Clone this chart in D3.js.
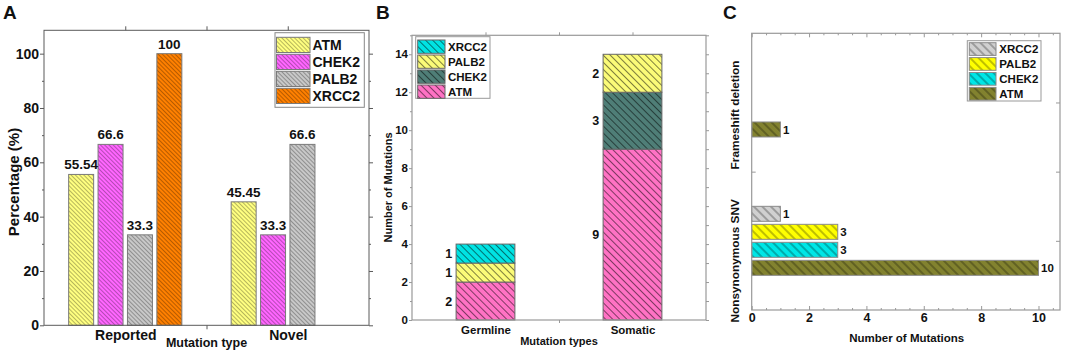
<!DOCTYPE html>
<html><head><meta charset="utf-8">
<script src="https://cdn.jsdelivr.net/npm/d3@7"></script>
<style>
html,body{margin:0;padding:0;background:#fff;}
svg text{font-family:"Liberation Sans",Arial,Helvetica,sans-serif;font-weight:bold;fill:#111;}
</style>
</head><body>
<svg id="chart" width="1065" height="350"></svg>
<script>
// ---------------- DATA ----------------
const genes = ["ATM", "CHEK2", "PALB2", "XRCC2"];

// Panel A
const aCategories = ["Reported", "Novel"];
const aReported = [55.54, 66.6, 33.3, 100];
const aNovel = [45.45, 33.3, 66.6, null];
const aYTicks = [0, 20, 40, 60, 80, 100];
const aYMinor = [10, 30, 50, 70, 90];

// Panel B
const bCategories = ["Germline", "Somatic"];
const bATM = [2, 9];
const bCHEK2 = [0, 3];
const bPALB2 = [1, 2];
const bXRCC2 = [1, 0];
const bYTicks = [0, 2, 4, 6, 8, 10, 12, 14];
const bYMinor = [1, 3, 5, 7, 9, 11, 13, 15];

// Panel C
const cCategories = ["Nonsynonymous SNV", "Frameshift deletion"];
const cATM = [10, 1];
const cCHEK2 = [3, null];
const cPALB2 = [3, null];
const cXRCC2 = [1, null];
const cXTicks = [0, 2, 4, 6, 8, 10];
const cXMinor = [0.5, 1, 1.5, 2.5, 3, 3.5, 4.5, 5, 5.5, 6.5, 7, 7.5, 8.5, 9, 9.5, 10.5];

// ---------------- HELPERS ----------------
const svg = d3.select("#chart");
const defs = svg.append("defs");
function hatch(id, color, spacing, lw, lineColor) {
  const p = defs.append("pattern").attr("id", id)
    .attr("patternUnits", "userSpaceOnUse")
    .attr("width", spacing).attr("height", spacing)
    .attr("patternTransform", "rotate(-45)");
  p.append("rect").attr("width", spacing).attr("height", spacing).attr("fill", color);
  p.append("line").attr("x1", spacing / 2).attr("y1", 0).attr("x2", spacing / 2).attr("y2", spacing)
    .attr("stroke", lineColor).attr("stroke-width", lw);
  return "url(#" + id + ")";
}
function styleAxis(g, color, fontSize) {
  g.select(".domain").remove();
  g.selectAll(".tick line").attr("stroke", color);
  g.selectAll(".tick text").attr("fill", "#111").style("font-size", fontSize + "px")
    .style("font-family", '"Liberation Sans",Arial,sans-serif').style("font-weight", "bold");
  return g;
}

// =============== PANEL A ===============
(function () {
  const x = d3.scaleLinear().domain([0.5, 2.5]).range([44, 369]);
  const y = d3.scaleLinear().domain([0, 108.6]).range([325.3, 30.3]);
  const inner = d3.scaleBand().domain(genes).range([-56.6, 56.6]).paddingInner(0.15);
  const colors = { ATM: "#ffff80", CHEK2: "#ff66ff", PALB2: "#c8c8c8", XRCC2: "#ff8000" };
  const fills = {};
  genes.forEach(g => fills[g] = hatch("a" + g, colors[g], 3, 0.9, "rgba(0,0,0,0.32)"));
  const series = [aReported, aNovel];
  const g = svg.append("g");
  const frameColor = "#5a5a5a";

  aCategories.forEach((cat, i) => {
    const vals = genes.map((gene, j) => ({ gene, v: series[i][j] })).filter(d => d.v != null);
    g.selectAll(null).data(vals).enter().append("rect")
      .attr("x", d => x(i + 1) + inner(d.gene))
      .attr("y", d => y(d.v))
      .attr("width", inner.bandwidth())
      .attr("height", d => y(0) - y(d.v))
      .attr("fill", d => fills[d.gene])
      .attr("stroke", "#7a7a7a").attr("stroke-width", 1);
    g.selectAll(null).data(vals).enter().append("text")
      .attr("x", d => x(i + 1) + inner(d.gene) + inner.bandwidth() / 2)
      .attr("y", d => y(d.v) - 5)
      .attr("text-anchor", "middle").style("font-size", "13.5px")
      .text(d => String(d.v));
  });

  g.append("rect").attr("x", x(0.5)).attr("y", y(108.6)).attr("width", x(2.5) - x(0.5)).attr("height", y(0) - y(108.6))
    .attr("fill", "none").attr("stroke", frameColor).attr("stroke-width", 1);

  styleAxis(g.append("g").attr("transform", `translate(${x(0.5)},0)`)
    .call(d3.axisLeft(y).tickValues(aYTicks).tickSize(4).tickPadding(1)), frameColor, 14);
  styleAxis(g.append("g").attr("transform", `translate(${x(0.5)},0)`)
    .call(d3.axisLeft(y).tickValues(aYMinor).tickSize(2).tickFormat("")), frameColor, 10);
  styleAxis(g.append("g").attr("transform", `translate(${x(2.5)},0)`)
    .call(d3.axisRight(y).tickValues(aYTicks).tickSize(4).tickFormat("")), frameColor, 10);
  styleAxis(g.append("g").attr("transform", `translate(${x(2.5)},0)`)
    .call(d3.axisRight(y).tickValues(aYMinor).tickSize(2).tickFormat("")), frameColor, 10);
  styleAxis(g.append("g").attr("transform", `translate(0,${y(108.6)})`)
    .call(d3.axisTop(x).tickValues([1, 1.5, 2]).tickSize(4).tickFormat("")), frameColor, 10);
  styleAxis(g.append("g").attr("transform", `translate(0,${y(0)})`)
    .call(d3.axisBottom(x).tickValues([1.5]).tickSize(4).tickFormat("")), frameColor, 10);
  styleAxis(g.append("g").attr("transform", `translate(0,${y(0)})`)
    .call(d3.axisBottom(x).tickValues([1, 2]).tickSize(0).tickPadding(5).tickFormat(d => aCategories[d - 1])), frameColor, 14);

  g.append("text").attr("x", x(1.5)).attr("y", 346.5).attr("text-anchor", "middle")
    .style("font-size", "12.5px").text("Mutation type");
  g.append("text").attr("transform", `translate(19,${182}) rotate(-90)`).attr("text-anchor", "middle")
    .style("font-size", "15px").text("Percentage (%)");

  const L = g.append("g");
  L.append("rect").attr("x", 275).attr("y", 32.7).attr("width", 89.3).attr("height", 74.6)
    .attr("fill", "#fff").attr("stroke", "#888");
  genes.forEach((gene, i) => {
    L.append("rect").attr("x", 276.5).attr("y", 37.3 + i * 17).attr("width", 33.5).attr("height", 15.2)
      .attr("fill", fills[gene]).attr("stroke", "#7a7a7a");
    L.append("text").attr("x", 312.5).attr("y", 37.3 + i * 17 + 12.5).style("font-size", "14px").text(gene);
  });

  g.append("text").attr("x", 3).attr("y", 19).style("font-size", "19px").text("A");
})();

// =============== PANEL B ===============
(function () {
  const x = d3.scaleLinear().domain([0.5, 2.5]).range([412, 706]);
  const y = d3.scaleLinear().domain([0, 15]).range([320, 35.3]);
  const barW = 0.4;
  const colors = { ATM: "#ff72c4", CHEK2: "#4f7e77", PALB2: "#fbfb78", XRCC2: "#00e3e3" };
  const fills = {};
  genes.forEach(g => fills[g] = hatch("b" + g, colors[g], 5, 1, "rgba(0,0,0,0.5)"));
  const rows = bCategories.map((c, i) => ({ cat: c, idx: i + 1, ATM: bATM[i], CHEK2: bCHEK2[i], PALB2: bPALB2[i], XRCC2: bXRCC2[i] }));
  const stacked = d3.stack().keys(genes)(rows);
  const g = svg.append("g");
  const frameColor = "#999";

  stacked.forEach(layer => {
    const segs = layer.filter(d => d[1] - d[0] > 0);
    g.selectAll(null).data(segs).enter().append("rect")
      .attr("x", d => x(d.data.idx - barW / 2))
      .attr("y", d => y(d[1]))
      .attr("width", x(1 + barW) - x(1))
      .attr("height", d => y(d[0]) - y(d[1]))
      .attr("fill", fills[layer.key])
      .attr("stroke", "#666").attr("stroke-width", 1);
    g.selectAll(null).data(segs).enter().append("text")
      .attr("x", d => x(d.data.idx - barW / 2) - 4)
      .attr("y", d => y((d[0] + d[1]) / 2))
      .attr("dy", "0.36em").attr("text-anchor", "end").style("font-size", "12.5px")
      .text(d => d[1] - d[0]);
  });

  g.append("rect").attr("x", x(0.5)).attr("y", y(15)).attr("width", x(2.5) - x(0.5)).attr("height", y(0) - y(15))
    .attr("fill", "none").attr("stroke", frameColor).attr("stroke-width", 1.2);

  styleAxis(g.append("g").attr("transform", `translate(${x(0.5)},0)`)
    .call(d3.axisLeft(y).tickValues(bYTicks).tickSize(3).tickPadding(1)), frameColor, 11.5);
  styleAxis(g.append("g").attr("transform", `translate(${x(0.5)},0)`)
    .call(d3.axisLeft(y).tickValues(bYMinor).tickSize(2).tickFormat("")), frameColor, 10);
  styleAxis(g.append("g").attr("transform", `translate(${x(2.5)},0)`)
    .call(d3.axisRight(y).tickValues(bYTicks.concat(bYMinor)).tickSize(3).tickFormat("")), frameColor, 10);
  styleAxis(g.append("g").attr("transform", `translate(0,${y(15)})`)
    .call(d3.axisTop(x).tickValues([1, 1.5, 2]).tickSize(3).tickFormat("")), frameColor, 10);
  styleAxis(g.append("g").attr("transform", `translate(0,${y(0)})`)
    .call(d3.axisBottom(x).tickValues([1.5]).tickSize(3).tickFormat("")), frameColor, 10);
  styleAxis(g.append("g").attr("transform", `translate(0,${y(0)})`)
    .call(d3.axisBottom(x).tickValues([1, 2]).tickSize(0).tickPadding(5.5).tickFormat(d => bCategories[d - 1])), frameColor, 11.5);

  g.append("text").attr("x", x(1.5)).attr("y", 344.5).attr("text-anchor", "middle")
    .style("font-size", "11px").text("Mutation types");
  g.append("text").attr("transform", `translate(391.5,${187.5}) rotate(-90)`).attr("text-anchor", "middle")
    .style("font-size", "11px").text("Number of Mutations");

  const order = ["XRCC2", "PALB2", "CHEK2", "ATM"];
  const L = g.append("g");
  L.append("rect").attr("x", 415.7).attr("y", 36.7).attr("width", 74.3).attr("height", 61.6)
    .attr("fill", "#fff").attr("stroke", "#999");
  order.forEach((gene, i) => {
    L.append("rect").attr("x", 417.7).attr("y", 40 + i * 15).attr("width", 27.3).attr("height", 13.3)
      .attr("fill", fills[gene]).attr("stroke", "#666");
    L.append("text").attr("x", 448).attr("y", 40 + i * 15 + 11).style("font-size", "11.5px").text(gene);
  });

  g.append("text").attr("x", 376).attr("y", 18.5).style("font-size", "19px").text("B");
})();

// =============== PANEL C ===============
(function () {
  const x = d3.scaleLinear().domain([0, 10.75]).range([751.7, 1060]);
  const y = d3.scaleLinear().domain([0.5, 2.5]).range([310, 33.3]);
  const order = ["XRCC2", "PALB2", "CHEK2", "ATM"];
  const inner = d3.scaleBand().domain(order).range([-34.5, 34.5]).paddingInner(0.167);
  const colors = { ATM: "#82822f", CHEK2: "#00e6e6", PALB2: "#ffff00", XRCC2: "#d0d0d0" };
  const fills = {};
  genes.forEach(g => fills[g] = hatch("c" + g, colors[g], 6, 1.2, "rgba(0,0,0,0.42)"));
  const series = { ATM: cATM, CHEK2: cCHEK2, PALB2: cPALB2, XRCC2: cXRCC2 };
  const g = svg.append("g");
  const frameColor = "#999";

  cCategories.forEach((cat, i) => {
    const vals = genes.map(gene => ({ gene, v: series[gene][i] })).filter(d => d.v != null);
    g.selectAll(null).data(vals).enter().append("rect")
      .attr("x", x(0))
      .attr("y", d => y(i + 1) + inner(d.gene))
      .attr("width", d => x(d.v) - x(0))
      .attr("height", inner.bandwidth())
      .attr("fill", d => fills[d.gene])
      .attr("stroke", "#8a8a8a").attr("stroke-width", 1);
    g.selectAll(null).data(vals).enter().append("text")
      .attr("x", d => x(d.v) + 2.5)
      .attr("y", d => y(i + 1) + inner(d.gene) + inner.bandwidth() / 2)
      .attr("dy", "0.36em").style("font-size", "11.5px")
      .text(d => d.v);
  });

  g.append("rect").attr("x", x(0)).attr("y", y(2.5)).attr("width", x(10.75) - x(0)).attr("height", y(0.5) - y(2.5))
    .attr("fill", "none").attr("stroke", frameColor).attr("stroke-width", 1.2);

  styleAxis(g.append("g").attr("transform", `translate(0,${y(0.5)})`)
    .call(d3.axisBottom(x).tickValues(cXTicks).tickSize(-4).tickPadding(3.5)), frameColor, 12.5);
  styleAxis(g.append("g").attr("transform", `translate(0,${y(0.5)})`)
    .call(d3.axisBottom(x).tickValues(cXMinor).tickSize(-2).tickFormat("")), frameColor, 10);
  styleAxis(g.append("g").attr("transform", `translate(0,${y(2.5)})`)
    .call(d3.axisTop(x).tickValues(cXTicks).tickSize(-4).tickFormat("")), frameColor, 10);
  styleAxis(g.append("g").attr("transform", `translate(0,${y(2.5)})`)
    .call(d3.axisTop(x).tickValues(cXMinor).tickSize(-2).tickFormat("")), frameColor, 10);
  styleAxis(g.append("g").attr("transform", `translate(${x(0)},0)`)
    .call(d3.axisLeft(y).tickValues([1.5]).tickSize(-4).tickFormat("")), frameColor, 10);
  styleAxis(g.append("g").attr("transform", `translate(${x(10.75)},0)`)
    .call(d3.axisRight(y).tickValues([1, 1.5, 2]).tickSize(-4).tickFormat("")), frameColor, 10);

  const catOffset = [20, 12.5];
  cCategories.forEach((cat, i) => {
    g.append("text").attr("transform", `translate(739,${y(i + 1) + catOffset[i]}) rotate(-90)`)
      .attr("text-anchor", "middle").style("font-size", "11.8px").text(cat);
  });

  g.append("text").attr("x", 906.7).attr("y", 341.7).attr("text-anchor", "middle")
    .style("font-size", "11.5px").text("Number of Mutations");

  const L = g.append("g");
  L.append("rect").attr("x", 967.3).attr("y", 40.7).attr("width", 73.7).attr("height", 60.3)
    .attr("fill", "#fff").attr("stroke", "#999");
  order.forEach((gene, i) => {
    L.append("rect").attr("x", 969.3).attr("y", 42.7 + i * 14.9).attr("width", 26.7).attr("height", 12.7)
      .attr("fill", fills[gene]).attr("stroke", "#8a8a8a");
    L.append("text").attr("x", 999.3).attr("y", 42.7 + i * 14.9 + 10.6).style("font-size", "11.5px").text(gene);
  });

  g.append("text").attr("x", 723).attr("y", 19).style("font-size", "19px").text("C");
})();
</script>
</body></html>
